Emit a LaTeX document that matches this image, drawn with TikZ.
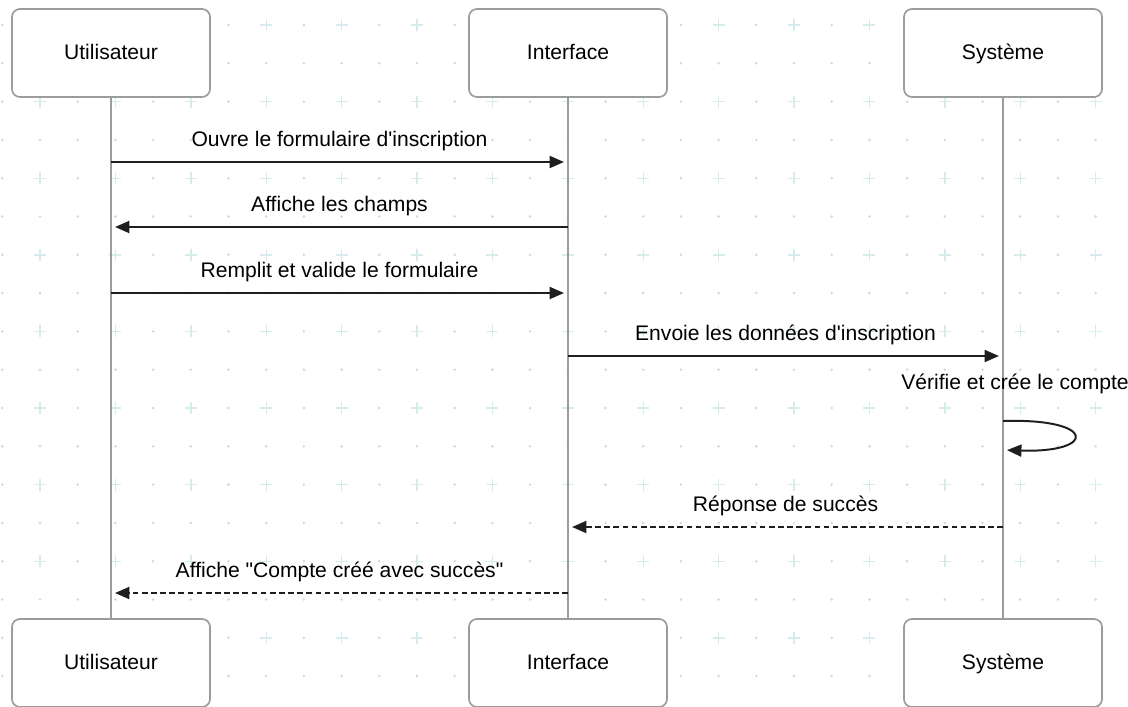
\documentclass[tikz,border=0pt]{standalone}
\usepackage{fontspec}
\setmainfont{Liberation Sans}
\usetikzlibrary{arrows.meta}
\definecolor{boxgray}{HTML}{9C9C9C}
\definecolor{msgblack}{HTML}{1E1E1E}
\definecolor{dotgray}{HTML}{D6D6D6}
\definecolor{plusteal}{HTML}{D6EBEB}
\tikzset{
  actor/.style={draw=boxgray, line width=1.2pt, rounded corners=0.2cm, fill=white,
    minimum width=4.95cm, minimum height=2.2cm, text height=2ex, text depth=0.35ex,
    font=\fontsize{15}{18}\selectfont},
  lifeline/.style={draw=boxgray, line width=1.2pt},
  msg/.style={draw=msgblack, line width=1.4pt, -{Triangle[length=0.36cm,width=0.3cm]}, shorten >=0.1cm},
  reply/.style={msg, dash pattern=on 4pt off 2.5pt},
  msglabel/.style={anchor=base, yshift=0.4cm, inner sep=0pt, font=\fontsize{15}{18}\selectfont},
  griddot/.style={fill=dotgray},
  gridplus/.style={draw=plusteal, line width=1pt}
}
\begin{document}
\begin{tikzpicture}[x=0.025cm,y=-0.025cm]
\useasboundingbox (0,0) rectangle (1128,706);
% background grid
\foreach \i in {-1,1,...,29}
  \foreach \j in {0,...,17}
    \fill[griddot] (40+37.7*\i,25+38.3*\j) circle (0.035cm);
\foreach \i in {0,2,...,28}
  \foreach \j in {1,3,...,17}
    \fill[griddot] (40+37.7*\i,25+38.3*\j) circle (0.035cm);
\foreach \i in {0,2,...,28}
  \foreach \j in {0,2,...,16}
    \draw[gridplus,shift={(40+37.7*\i,25+38.3*\j)}] (-6,0) -- (6,0) (0,-6) -- (0,6);

% participants
\node[actor] (usr) at (111,53) {Utilisateur};
\node[actor] (ifc) at (568,53) {Interface};
\node[actor] (sys) at (1003,53) {Système};
\node[actor] (usrb) at (111,663) {Utilisateur};
\node[actor] (ifcb) at (568,663) {Interface};
\node[actor] (sysb) at (1003,663) {Système};

\draw[lifeline] (usr.south) -- (usrb.north);
\draw[lifeline] (ifc.south) -- (ifcb.north);
\draw[lifeline] (sys.south) -- (sysb.north);

% message rows
\coordinate (m1) at (0,162);
\coordinate (m2) at (0,227);
\coordinate (m3) at (0,293);
\coordinate (m4) at (0,356);
\coordinate (l1) at (0,421);
\coordinate (l2) at (0,450);
\coordinate (m5) at (0,527);
\coordinate (m6) at (0,593);

\draw[msg] (usr |- m1) -- (ifc |- m1) node[midway,msglabel] {Ouvre le formulaire d\textquotesingle inscription};
\draw[msg] (ifc |- m2) -- (usr |- m2) node[midway,msglabel] {Affiche les champs};
\draw[msg] (usr |- m3) -- (ifc |- m3) node[midway,msglabel] {Remplit et valide le formulaire};
\draw[msg] (ifc |- m4) -- (sys |- m4) node[midway,msglabel] {Envoie les données d\textquotesingle inscription};
\node[msglabel,yshift=0cm] (chk) at (1015,405) {Vérifie et crée le compte};
\draw[msg] (sys |- l1) .. controls +(94,-3) and +(94,3) .. (sys |- l2);
\draw[reply] (sys |- m5) -- (ifc |- m5) node[midway,msglabel] {Réponse de succès};
\draw[reply] (ifc |- m6) -- (usr |- m6) node[midway,msglabel] {Affiche \textquotedbl Compte créé avec succès\textquotedbl};
\end{tikzpicture}
\end{document}
